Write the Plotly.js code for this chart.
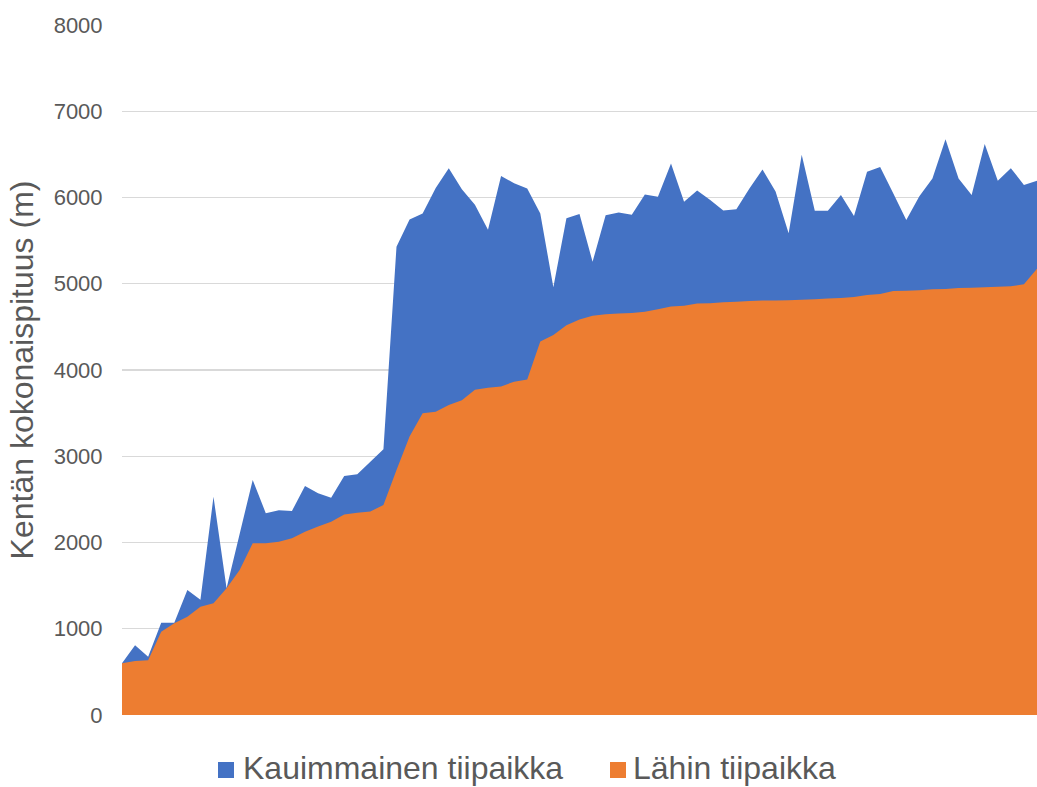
<!DOCTYPE html>
<html>
<head>
<meta charset="utf-8">
<script src="https://cdn.plot.ly/plotly-3.0.1.min.js"></script>
<style>
  html, body { margin: 0; padding: 0; background: #ffffff; }
  #chart { width: 1037px; height: 787px; }
</style>
</head>
<body>
<div id="chart"></div>
<script>
// Category positions (fields sorted by nearest tee length) – no labels shown on axis
const categories = [1,2,3,4,5,6,7,8,9,10,11,12,13,14,15,16,17,18,19,20,21,22,23,24,25,26,27,28,29,30,31,32,33,34,35,36,37,38,39,40,41,42,43,44,45,46,47,48,49,50,51,52,53,54,55,56,57,58,59,60,61,62,63,64,65,66,67,68,69,70,71];

// Kauimmainen tiipaikka (farthest tee), metres
const kauimmainen = [600,810,675,1070,1070,1450,1335,2530,1470,2100,
  2725,2340,2375,2365,2655,2570,2520,2770,2790,2935,
  3080,5430,5745,5815,6110,6340,6095,5915,5625,6250,
  6165,6105,5815,4960,5760,5810,5255,5795,5825,5800,
  6035,6010,6395,5950,6080,5970,5850,5865,6105,6325,
  6070,5585,6495,5845,5845,6030,5785,6300,6355,6050,
  5740,6015,6220,6675,6220,6030,6620,6195,6340,6145,6195];

// Lähin tiipaikka (nearest tee), metres
const lahin = [600,625,635,965,1065,1140,1255,1295,1470,1680,
  1990,1990,2010,2050,2125,2185,2240,2325,2345,2360,
  2435,2840,3230,3500,3515,3595,3650,3770,3795,3810,
  3865,3890,4330,4405,4520,4585,4630,4645,4655,4660,
  4675,4705,4735,4745,4770,4775,4785,4790,4800,4805,
  4805,4810,4815,4820,4830,4835,4845,4870,4880,4915,
  4920,4925,4935,4940,4950,4955,4960,4965,4970,4995,5175];

const seriesNames = ['Kauimmainen tiipaikka', 'Lähin tiipaikka'];
const yTicks = [0,1000,2000,3000,4000,5000,6000,7000,8000];
const yTitle = 'Kentän kokonaispituus (m)';

const BLUE = '#4472C4';
const ORANGE = '#ED7D31';
const TEXT = '#595959';
const FONT = 'Liberation Sans, Arial, sans-serif';

const traces = [
  {
    x: categories, y: kauimmainen, type: 'scatter', mode: 'none',
    fill: 'tozeroy', fillcolor: BLUE, name: seriesNames[0],
    showlegend: false, hoverinfo: 'x+y'
  },
  {
    x: categories, y: lahin, type: 'scatter', mode: 'none',
    fill: 'tozeroy', fillcolor: ORANGE, name: seriesNames[1],
    showlegend: false, hoverinfo: 'x+y'
  }
];

// Legend drawn below the plot (keys as shapes, labels as text annotations)
const legendKeys = [
  {color: BLUE,   x0: 0.1049, x1: 0.1224, tx: 0.1311, name: seriesNames[0]},
  {color: ORANGE, x0: 0.5333, x1: 0.5508, tx: 0.5574, name: seriesNames[1]}
];
const legendY0 = -0.0913, legendY1 = -0.0681, legendYc = -0.0768;

const layout = {
  width: 1037, height: 787,
  margin: {l: 122, r: 0, t: 25, b: 72, pad: 0},
  paper_bgcolor: '#ffffff', plot_bgcolor: '#ffffff',
  font: {family: FONT, color: TEXT},
  showlegend: false,
  xaxis: {
    range: [1, 71], showgrid: false, zeroline: false,
    showticklabels: false, ticks: '', showline: false, fixedrange: true
  },
  yaxis: {
    range: [0, 8000], tickvals: yTicks, ticktext: yTicks.map(String),
    showgrid: true, gridcolor: '#D9D9D9', gridwidth: 1.3,
    zeroline: false, showline: false,
    ticks: 'outside', ticklen: 14, tickcolor: 'rgba(0,0,0,0)',
    tickfont: {family: FONT, size: 22, color: TEXT},
    title: {text: yTitle, font: {family: FONT, size: 32, color: TEXT}, standoff: 10},
    fixedrange: true
  },
  shapes: legendKeys.map(k => ({
    type: 'rect', xref: 'paper', yref: 'paper',
    x0: k.x0, x1: k.x1, y0: legendY0, y1: legendY1,
    fillcolor: k.color, line: {width: 0}
  })),
  annotations: legendKeys.map(k => ({
    xref: 'paper', yref: 'paper', x: k.tx, y: legendYc,
    xanchor: 'left', yanchor: 'middle', showarrow: false, borderpad: 0,
    text: k.name, font: {family: FONT, size: 32, color: TEXT}
  }))
};

Plotly.newPlot('chart', traces, layout, {displayModeBar: false, staticPlot: true});
</script>
</body>
</html>
